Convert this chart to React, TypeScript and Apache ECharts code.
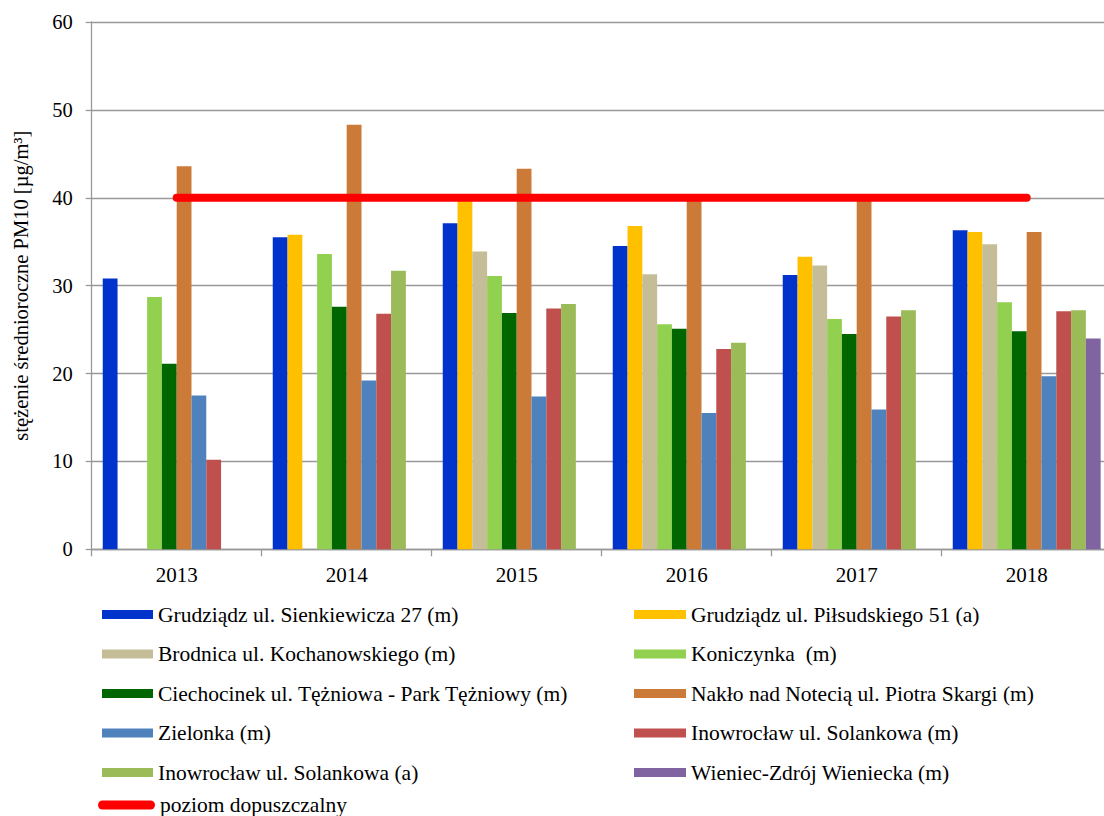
import React, { useEffect, useRef } from 'react';
import * as echarts from 'echarts';

const years = ['2013', '2014', '2015', '2016', '2017', '2018'];
const yTicks = { min: 0, max: 60, interval: 10 };

const seriesNames = [
  'Grudziądz ul. Sienkiewicza 27 (m)',
  'Grudziądz ul. Piłsudskiego 51 (a)',
  'Brodnica ul. Kochanowskiego (m)',
  'Koniczynka  (m)',
  'Ciechocinek ul. Tężniowa - Park Tężniowy (m)',
  'Nakło nad Notecią ul. Piotra Skargi (m)',
  'Zielonka (m)',
  'Inowrocław ul. Solankowa (m)',
  'Inowrocław ul. Solankowa (a)',
  'Wieniec-Zdrój Wieniecka (m)',
];
const limitName = 'poziom dopuszczalny';

const colors = ['#0033CC', '#FFC000', '#C4BD97', '#92D050', '#006600', '#CC7A38', '#4F81BD', '#C0504D', '#9BBB59', '#8064A2'];

const grudziadzSienkiewicza = [30.8, 35.5, 37.1, 34.5, 31.2, 36.3];
const grudziadzPilsudskiego = [null, 35.8, 39.8, 36.8, 33.3, 36.1];
const brodnica = [null, null, 33.9, 31.3, 32.3, 34.7];
const koniczynka = [28.7, 33.6, 31.1, 25.6, 26.2, 28.1];
const ciechocinek = [21.1, 27.6, 26.9, 25.1, 24.5, 24.8];
const naklo = [43.6, 48.3, 43.3, 40.0, 40.0, 36.1];
const zielonka = [17.5, 19.2, 17.4, 15.5, 15.9, 19.7];
const inowroclawM = [10.2, 26.8, 27.4, 22.8, 26.5, 27.1];
const inowroclawA = [null, 31.7, 27.9, 23.5, 27.2, 27.2];
const wieniec = [null, null, null, null, null, 24.0];
const limitValues = [40, 40, 40, 40, 40, 40];

const seriesData = [
  grudziadzSienkiewicza,
  grudziadzPilsudskiego,
  brodnica,
  koniczynka,
  ciechocinek,
  naklo,
  zielonka,
  inowroclawM,
  inowroclawA,
  wieniec,
];

const FONT = "'Liberation Serif', 'Times New Roman', serif";
const AXIS_COLOR = '#999999';

export default function App() {
  const ref = useRef<HTMLDivElement>(null);

  useEffect(() => {
    if (!ref.current) return;
    const chart = echarts.init(ref.current, undefined, { renderer: 'svg' });

    const barSeries = seriesNames.map((name, i) => ({
      name,
      type: 'bar',
      data: seriesData[i],
      barGap: '0%',
      barCategoryGap: '13%',
      itemStyle: { color: colors[i] },
      z: 2,
    }));

    const legendText = { fontSize: 21.5, lineHeight: 21, fontFamily: FONT, color: '#000' };

    const option = {
      animation: false,
      backgroundColor: '#ffffff',
      grid: { left: 91.7, top: 22, right: 0.3, bottom: 266.7, containLabel: false },
      legend: [
        {
          orient: 'vertical',
          left: 102,
          top: 603.5,
          padding: 0,
          itemWidth: 51,
          itemHeight: 9,
          itemGap: 17.5,
          icon: 'rect',
          selectedMode: false,
          textStyle: legendText,
          data: [0, 2, 4, 6, 8].map((i) => seriesNames[i]),
        },
        {
          orient: 'vertical',
          left: 634,
          top: 603.5,
          padding: 0,
          itemWidth: 52,
          itemHeight: 9,
          itemGap: 17.5,
          icon: 'rect',
          selectedMode: false,
          textStyle: legendText,
          data: [1, 3, 5, 7, 9].map((i) => seriesNames[i]),
        },
        {
          orient: 'vertical',
          left: 98,
          top: 794,
          padding: 0,
          itemWidth: 57,
          itemHeight: 9,
          selectedMode: false,
          itemStyle: { borderWidth: 0 },
          textStyle: legendText,
          data: [
            {
              name: limitName,
              icon: 'path://M4.5,0H52.5A4.5,4.5,0,0,1,52.5,9H4.5A4.5,4.5,0,0,1,4.5,0Z',
            },
          ],
        },
      ],
      xAxis: {
        type: 'category',
        data: years,
        boundaryGap: true,
        axisLine: { show: true, lineStyle: { color: AXIS_COLOR, width: 1.3 } },
        axisTick: { show: true, length: 7, alignWithLabel: false, lineStyle: { color: AXIS_COLOR, width: 1.3 } },
        axisLabel: { fontSize: 21, fontFamily: FONT, color: '#000', margin: 15 },
        splitLine: { show: false },
      },
      yAxis: {
        type: 'value',
        min: yTicks.min,
        max: yTicks.max,
        interval: yTicks.interval,
        name: 'stężenie średnioroczne PM10 [µg/m³]',
        nameLocation: 'middle',
        nameRotate: 90,
        nameGap: 60,
        nameTextStyle: { fontSize: 20.5, fontFamily: FONT, color: '#000' },
        axisLine: { show: true, lineStyle: { color: AXIS_COLOR, width: 1.3 } },
        axisTick: { show: true, length: 6, lineStyle: { color: AXIS_COLOR, width: 1.3 } },
        axisLabel: { fontSize: 20.5, fontFamily: FONT, color: '#000', margin: 19 },
        splitLine: { show: true, lineStyle: { color: AXIS_COLOR, width: 1.3 } },
      },
      series: [
        ...barSeries,
        {
          name: limitName,
          type: 'line',
          data: limitValues,
          symbol: 'none',
          lineStyle: { color: '#FF0000', width: 8, cap: 'round' },
          itemStyle: { color: '#FF0000' },
          z: 5,
        },
      ],
    };

    chart.setOption(option as any);
    return () => chart.dispose();
  }, []);

  return (
    <div
      style={{
        position: 'absolute',
        left: 0,
        top: 0,
        width: 1104,
        height: 816,
        overflow: 'hidden',
        background: '#fff',
      }}
    >
      <div ref={ref} style={{ width: 1112, height: 816 }} />
    </div>
  );
}
